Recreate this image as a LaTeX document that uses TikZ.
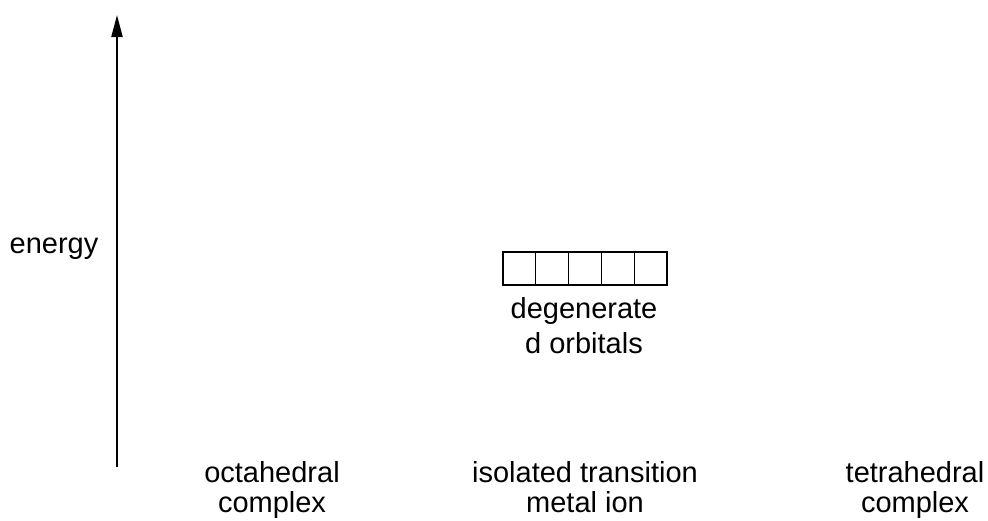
\documentclass[tikz,border=0pt]{standalone}
\usepackage{fontspec}
\setmainfont{Liberation Sans}
\usetikzlibrary{arrows.meta}
\begin{document}
\begin{tikzpicture}[x=1pt,y=-1pt,
  lbl/.style={inner sep=0pt,align=center,anchor=base,font=\fontsize{29}{30.5}\selectfont},
  lblwide/.style={lbl,font=\fontsize{29}{35}\selectfont},
  orb/.style={draw,line width=1.2pt,minimum width=32.8pt,minimum height=33pt,inner sep=0pt,outer sep=0pt},
  axis/.style={line width=2pt,-{Triangle[length=22pt,width=11pt]}}]
\useasboundingbox (0,0) rectangle (988,520);
\coordinate (a0) at (117,467);
\coordinate (a1) at (117,15);
\draw[axis] (a0) -- (a1);
\node[lbl] (energy) at (54,253) {energy};
\node[orb] (o1) at (519.4,268.5) {};
\node[orb,anchor=west] (o2) at (o1.east) {};
\node[orb,anchor=west] (o3) at (o2.east) {};
\node[orb,anchor=west] (o4) at (o3.east) {};
\node[orb,anchor=west] (o5) at (o4.east) {};
\node[lblwide] (deg) at (584,353) {degenerate\\d orbitals};
\node[lbl] (oct) at (272,512.5) {octahedral\\complex};
\node[lbl] (iso) at (585,512.5) {isolated transition\\metal ion};
\node[lbl] (tet) at (915,512.5) {tetrahedral\\complex};
\end{tikzpicture}
\end{document}
